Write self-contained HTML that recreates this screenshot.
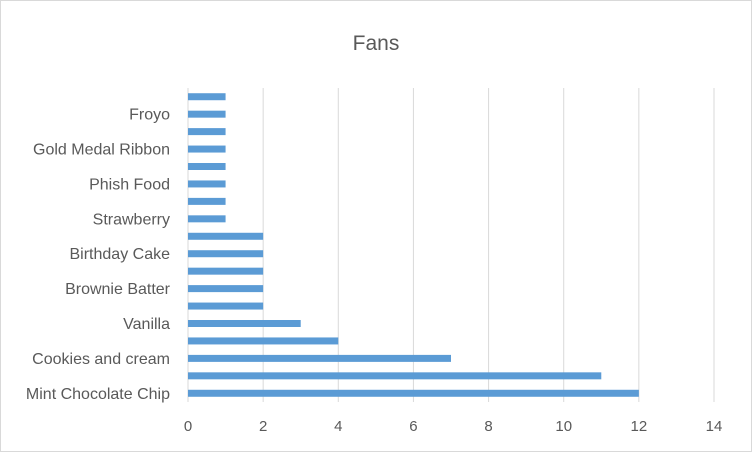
<!DOCTYPE html>
<html><head><meta charset="utf-8"><style>
body{margin:0;background:#fff;}
svg{display:block;font-family:"Liberation Sans",Arial,sans-serif;}
</style></head><body>
<svg id="chart" width="752" height="452">
<rect x="0.5" y="0.5" width="751" height="451" fill="#fff" stroke="#d9d9d9"/>
<text x="376" y="50" text-anchor="middle" font-size="21" fill="#595959">Fans</text>
<g id="grid"></g><g id="bars"></g><g id="labels"></g>
</svg>
<script>
const categories=["Mint Chocolate Chip","","Cookies and cream","","Vanilla","","Brownie Batter","","Birthday Cake","","Strawberry","","Phish Food","","Gold Medal Ribbon","","Froyo",""];
const values=[12,11,7,4,3,2,2,2,2,2,1,1,1,1,1,1,1,1];
const xTicks=[0,2,4,6,8,10,12,14];
const NS="http://www.w3.org/2000/svg";
const x0=188,x1=714,yTop=88,yBot=402,xMax=14;
const xs=v=>x0+(x1-x0)*v/xMax;
const band=(yBot-yTop)/categories.length;
const yc=i=>yBot-band*(i+0.5);
function mk(t,a,p){const e=document.createElementNS(NS,t);for(const k in a)e.setAttribute(k,a[k]);p.appendChild(e);return e;}
const grid=document.getElementById('grid'),bars=document.getElementById('bars'),labels=document.getElementById('labels');
xTicks.forEach(t=>{
 if(t>0){const l=mk('line',{x1:xs(t),x2:xs(t),y1:yTop,y2:yBot,stroke:'#d9d9d9','stroke-width':1},grid);
 
 }
 const tx=mk('text',{x:xs(t),y:431,'text-anchor':'middle','font-size':15,fill:'#595959'},labels);
 tx.textContent=t;
 
 
});
const ax=mk('line',{x1:x0,x2:x0,y1:yTop,y2:yBot,stroke:'#d9d9d9'},grid);


values.forEach((v,i)=>{
 const r=mk('rect',{x:x0,y:yc(i)-3.5,width:xs(v)-x0,height:7,fill:'#5b9bd5'},bars);
 
 
 if(categories[i]){
  const tx=mk('text',{x:170,y:yc(i)+5.5,'text-anchor':'end','font-size':16,fill:'#595959'},labels);
  tx.textContent=categories[i];
  
  
 }
});
</script>
</body></html>
